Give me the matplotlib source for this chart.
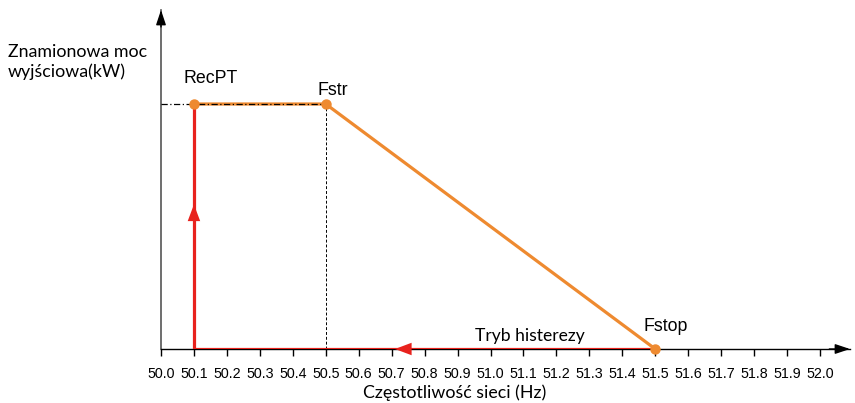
import numpy as np
import matplotlib.pyplot as plt

# Data
freq_ticks = np.round(np.arange(50.0, 52.01, 0.1), 1)
power_x = [50.1, 50.5, 51.5]      # RecPT, Fstr, Fstop
power_y = [1.0, 1.0, 0.0]
hyst_x = [51.5, 50.1, 50.1]
hyst_y = [0.0, 0.0, 1.0]
point_names = ["RecPT", "Fstr", "Fstop"]

red = "#e8221d"
orange = "#ee8a30"
cal = ["Lato", "DejaVu Sans"]
ari = ["Liberation Sans", "DejaVu Sans"]

fig = plt.figure(figsize=(8.55, 4.03), dpi=100)
ax = fig.add_axes([161/855, 1 - 349/403, 689/855, 339/403])
ax.set_xlim(50.0, 50.0 + 689/329.5)
ax.set_ylim(0, 339/245)

for s in ["top", "right"]:
    ax.spines[s].set_visible(False)
ax.spines["left"].set_color("#555555")
ax.spines["bottom"].set_color("black")
ax.spines["left"].set_linewidth(1.2)
ax.spines["bottom"].set_linewidth(1.0)

# axis arrow heads
ax.annotate("", xy=(1.0, 0), xytext=(0.97, 0), xycoords="axes fraction",
            arrowprops=dict(arrowstyle="-|>,head_length=0.9,head_width=0.3",
                            color="black", lw=1, shrinkA=0, shrinkB=0))
ax.annotate("", xy=(0, 1.0), xytext=(0, 0.95), xycoords="axes fraction",
            arrowprops=dict(arrowstyle="-|>,head_length=0.9,head_width=0.3",
                            color="black", lw=1, shrinkA=0, shrinkB=0))

ax.set_xticks(freq_ticks)
ax.set_xticklabels([f"{v:.1f}" for v in freq_ticks], family=ari, fontsize=10.3)
ax.tick_params(axis="x", direction="out", length=5, width=1, pad=8)
ax.set_yticks([])

# guide lines
ax.plot([50.0, power_x[1]], [power_y[0], power_y[1]], color="black", lw=0.9,
        ls=(0, (5, 2, 1, 2)), zorder=5)
ax.plot([power_x[1], power_x[1]], [0, power_y[1]], color="black", lw=0.7,
        ls=(0, (3, 2)), zorder=1)

# hysteresis path (red)
ax.plot(hyst_x, hyst_y, color=red, lw=2.3, zorder=3, solid_joinstyle="miter")
ax.annotate("", xy=(50.71, 0), xytext=(50.80, 0),
            arrowprops=dict(arrowstyle="-|>,head_length=1.2,head_width=0.45",
                            color=red, lw=0, shrinkA=0, shrinkB=0), zorder=4)
ax.annotate("", xy=(50.1, 0.59), xytext=(50.1, 0.50),
            arrowprops=dict(arrowstyle="-|>,head_length=1.2,head_width=0.45",
                            color=red, lw=0, shrinkA=0, shrinkB=0), zorder=4)

# power curve (orange)
ax.plot(power_x, power_y, color=orange, lw=2.3, zorder=4)
ax.plot(power_x, power_y, "o", color=orange, ms=6.5, zorder=6, clip_on=False)

ax.text(50.067, 1.106, point_names[0], family=ari, fontsize=12.8, va="center")
ax.text(50.476, 1.057, point_names[1], family=ari, fontsize=12.8, va="center")
ax.text(51.465, 0.09, point_names[2], family=ari, fontsize=12.8, va="center")
ax.text(51.12, 0.055, "Tryb histerezy", family=cal, fontsize=12.6, va="center", ha="center")

fig.text(8/855, 1 - 62/403, "Znamionowa moc\nwyjściowa(kW)", family=cal, fontsize=12.8,
         va="center", ha="left", linespacing=1.3)
fig.text(455/855, 1 - 393/403, "Częstotliwość sieci (Hz)", family=cal, fontsize=12.8,
         va="center", ha="center")

fig.savefig("out.png", dpi=100)
